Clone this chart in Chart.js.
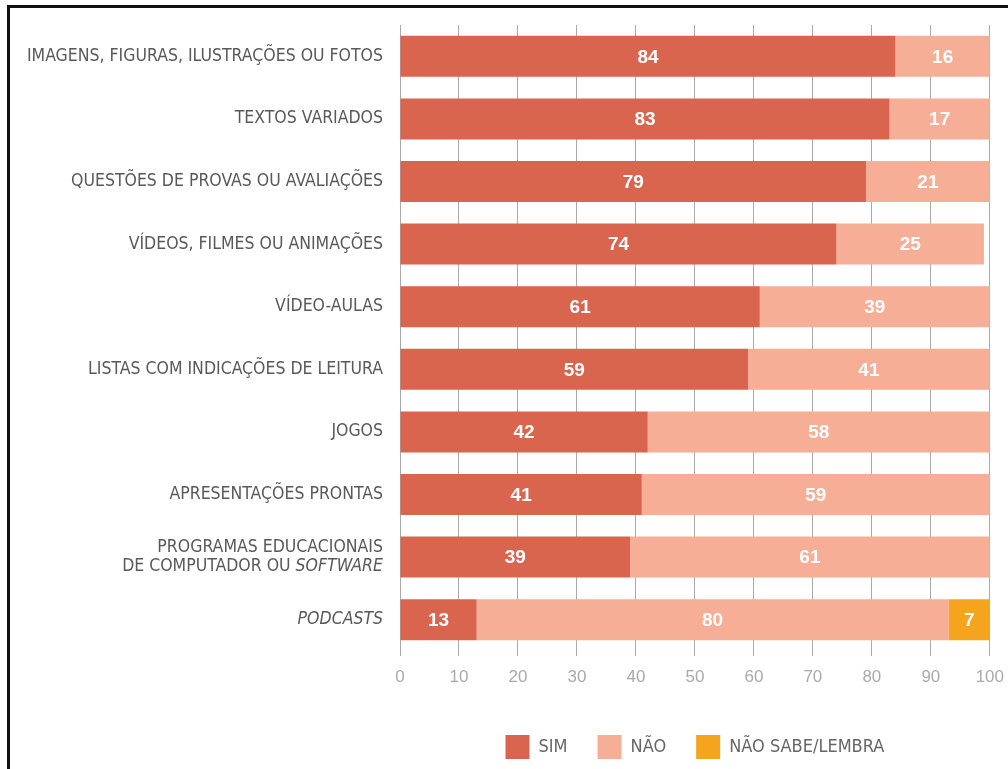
<!DOCTYPE html>
<html>
<head>
<meta charset="utf-8">
<title>Recursos digitais</title>
<script src="https://cdn.jsdelivr.net/npm/chart.js@4/dist/chart.umd.min.js"></script>
<style>
  html, body { margin: 0; padding: 0; background: #fff; overflow: hidden; }
  .frame {
    position: absolute; left: 7px; top: 5px;
    width: 1010px; height: 770px;
    border-top: 3px solid #111; border-left: 3px solid #111;
  }
  canvas { display: block; }
</style>
</head>
<body>
<div class="frame"><canvas id="chart" width="1005" height="761"></canvas></div>
<script>
const categories = [
  ['IMAGENS, FIGURAS, ILUSTRAÇÕES OU FOTOS'],
  ['TEXTOS VARIADOS'],
  ['QUESTÕES DE PROVAS OU AVALIAÇÕES'],
  ['VÍDEOS, FILMES OU ANIMAÇÕES'],
  ['VÍDEO-AULAS'],
  ['LISTAS COM INDICAÇÕES DE LEITURA'],
  ['JOGOS'],
  ['APRESENTAÇÕES PRONTAS'],
  ['PROGRAMAS EDUCACIONAIS', 'DE COMPUTADOR OU SOFTWARE'],
  ['PODCASTS']
];
const italicWords = ['SOFTWARE', 'PODCASTS'];

const sim     = [84, 83, 79, 74, 61, 59, 42, 41, 39, 13];
const nao     = [16, 17, 21, 25, 39, 41, 58, 59, 61, 80];
const naoSabe = [null, null, null, null, null, null, null, null, null, 7];

const xTicks = [0, 10, 20, 30, 40, 50, 60, 70, 80, 90, 100];

const NARROW = '"Liberation Sans Narrow", "DejaVu Sans Condensed", sans-serif';
const SANS = '"Liberation Sans", Arial, sans-serif';

// category names drawn by hand so single words can be set in italics
const categoryLabels = {
  id: 'categoryLabels',
  afterDraw(chart) {
    const ctx = chart.ctx;
    const y = chart.scales.y;
    const right = chart.chartArea.left - 17;
    const size = 17.5, lineH = 19;
    ctx.save();
    ctx.fillStyle = '#595959';
    ctx.textBaseline = 'middle';
    ctx.textAlign = 'left';
    categories.forEach((lines, i) => {
      const cy = y.getPixelForValue(i);
      lines.forEach((line, j) => {
        const ly = cy + (j - (lines.length - 1) / 2) * lineH;
        const words = line.split(' ');
        const fonts = words.map(w =>
          (italicWords.includes(w) ? 'italic ' : '') + size + 'px ' + NARROW);
        ctx.font = size + 'px ' + NARROW;
        const space = ctx.measureText(' ').width;
        const widths = words.map((w, k) => { ctx.font = fonts[k]; return ctx.measureText(w).width; });
        let x = right - widths.reduce((a, b) => a + b, 0) - space * (words.length - 1);
        words.forEach((w, k) => {
          ctx.font = fonts[k];
          ctx.fillText(w, x, ly);
          x += widths[k] + space;
        });
      });
    });
    ctx.restore();
  }
};

// value written in the middle of every segment
const segmentValues = {
  id: 'segmentValues',
  afterDatasetsDraw(chart) {
    const ctx = chart.ctx;
    ctx.save();
    ctx.font = 'bold 19px ' + SANS;
    ctx.fillStyle = '#fff';
    ctx.textAlign = 'center';
    ctx.textBaseline = 'middle';
    chart.data.datasets.forEach((ds, di) => {
      chart.getDatasetMeta(di).data.forEach((bar, i) => {
        const v = ds.data[i];
        if (v == null) return;
        ctx.fillText(String(v), (bar.x + bar.base) / 2, bar.y + 1);
      });
    });
    ctx.restore();
  }
};

new Chart(document.getElementById('chart'), {
  type: 'bar',
  data: {
    labels: categories.map(c => c.join(' ')),
    datasets: [
      { label: 'SIM', data: sim, backgroundColor: '#d9654f' },
      { label: 'NÃO', data: nao, backgroundColor: '#f6ae96' },
      { label: 'NÃO SABE/LEMBRA', data: naoSabe, backgroundColor: '#f6a31e' }
    ]
  },
  options: {
    indexAxis: 'y',
    responsive: false,
    animation: false,
    layout: { padding: { top: 17, right: 18, left: 0, bottom: 0 } },
    datasets: { bar: { barPercentage: 0.655, categoryPercentage: 1 } },
    scales: {
      x: {
        stacked: true,
        min: 0,
        max: 100,
        afterBuildTicks: s => { s.ticks = xTicks.map(v => ({ value: v })); },
        afterFit: s => { s.height = 54; },
        grid: { color: '#aaa', lineWidth: 1, drawTicks: true, tickLength: 5 },
        border: { display: false },
        ticks: { color: '#aaa', font: { family: SANS, size: 17 }, padding: 11 }
      },
      y: {
        stacked: true,
        afterFit: s => { s.width = 390; },
        grid: { display: false },
        border: { display: true, color: '#aaa' },
        ticks: { display: false }
      }
    },
    plugins: {
      legend: {
        position: 'bottom',
        fullSize: false,
        labels: {
          boxWidth: 24,
          boxHeight: 24,
          padding: 30,
          color: '#666',
          font: { family: NARROW, size: 18 }
        }
      },
      tooltip: { enabled: false }
    }
  },
  plugins: [categoryLabels, segmentValues]
});
</script>
</body>
</html>
